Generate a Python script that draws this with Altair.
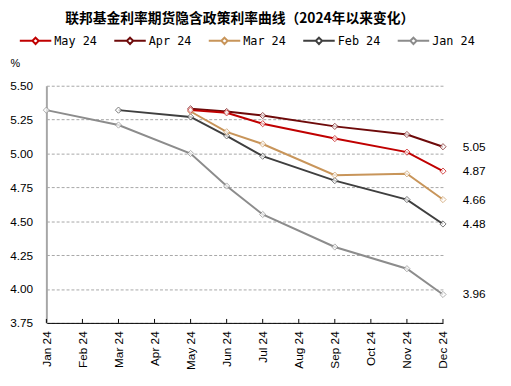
import altair as alt
import pandas as pd

months = ["Jan 24", "Feb 24", "Mar 24", "Apr 24", "May 24", "Jun 24",
          "Jul 24", "Aug 24", "Sep 24", "Oct 24", "Nov 24", "Dec 24"]

series_names = ["May 24", "Apr 24", "Mar 24", "Feb 24", "Jan 24"]
series_colors = ["#C00000", "#6E0A0A", "#C8955A", "#3F3F3F", "#8C8C8C"]

jan_months = ["Jan 24", "Mar 24", "May 24", "Jun 24", "Jul 24", "Sep 24", "Nov 24", "Dec 24"]
jan_vals = [5.32, 5.21, 5.00, 4.76, 4.55, 4.31, 4.15, 3.96]

feb_months = ["Mar 24", "May 24", "Jun 24", "Jul 24", "Sep 24", "Nov 24", "Dec 24"]
feb_vals = [5.32, 5.27, 5.13, 4.98, 4.80, 4.66, 4.48]

mar_months = ["May 24", "Jun 24", "Jul 24", "Sep 24", "Nov 24", "Dec 24"]
mar_vals = [5.31, 5.16, 5.07, 4.84, 4.85, 4.66]

apr_months = ["May 24", "Jun 24", "Jul 24", "Sep 24", "Nov 24", "Dec 24"]
apr_vals = [5.33, 5.31, 5.28, 5.20, 5.14, 5.05]

may_months = ["May 24", "Jun 24", "Jul 24", "Sep 24", "Nov 24", "Dec 24"]
may_vals = [5.32, 5.30, 5.22, 5.11, 5.01, 4.87]

end_labels = ["5.05", "4.87", "4.66", "4.48", "3.96"]
end_vals = [5.05, 4.87, 4.66, 4.48, 3.96]

y_ticks = [3.75, 4.00, 4.25, 4.50, 4.75, 5.00, 5.25, 5.50]

rows = []
for name, ms, vs in [("Jan 24", jan_months, jan_vals), ("Feb 24", feb_months, feb_vals),
                     ("Mar 24", mar_months, mar_vals), ("Apr 24", apr_months, apr_vals),
                     ("May 24", may_months, may_vals)]:
    for m, v in zip(ms, vs):
        rows.append({"series": name, "month": m, "value": v})
df = pd.DataFrame(rows)

lab_df = pd.DataFrame({"month": ["Dec 24"] * len(end_labels), "value": end_vals, "label": end_labels})
tick_df = pd.DataFrame({"month": months})

x_scale = alt.Scale(type="point", domain=months, padding=0)
y_scale = alt.Scale(domain=[3.75, 5.5], nice=False, zero=False)
color_scale = alt.Scale(domain=series_names, range=series_colors)

x_enc = alt.X("month:O", scale=x_scale, sort=months,
              axis=alt.Axis(title=None, labelAngle=-90, labelFontSize=12, labelFont="Liberation Sans",
                            labelColor="#000000", ticks=False, labelPadding=8, domainColor="#000000",
                            domainWidth=1, grid=False, labelOverlap=False))
y_enc = alt.Y("value:Q", scale=y_scale,
              axis=alt.Axis(title="%", titleAngle=0, titleX=-37, titleY=-18, titleFontSize=11,
                            titleFontWeight="normal", titleFont="Liberation Sans", titleAlign="left",
                            values=y_ticks, tickCount=20, format=".2f", labelFontSize=12,
                            labelFont="Liberation Sans",
                            labelColor="#000000", ticks=False, labelPadding=14, labelOverlap=False,
                            domainColor="#A6A6A6", domainWidth=2, grid=True, gridColor="#A6A6A6",
                            gridDash=[3, 2], gridWidth=1))

legend_sym = "M-1,0L-0.2,0M0.2,0L1,0M0,-0.2L0.2,0L0,0.2L-0.2,0Z"

lines = alt.Chart(df).mark_line(strokeWidth=2).encode(
    x=x_enc,
    y=y_enc,
    color=alt.Color("series:N", scale=color_scale, sort=series_names,
                    legend=alt.Legend(title=None, orient="none", legendX=-28, legendY=-63,
                                      direction="horizontal", columns=5, symbolType=legend_sym,
                                      symbolSize=1024, symbolStrokeWidth=2, symbolFillColor="white",
                                      labelFont="DejaVu Sans Mono", labelFontSize=12,
                                      labelColor="#000000", labelOffset=2, columnPadding=13)),
    detail="series:N",
)

points = alt.Chart(df).mark_point(shape="diamond", filled=True, fill="white", size=40,
                                  strokeWidth=1).encode(
    x=alt.X("month:O", scale=x_scale, sort=months),
    y=alt.Y("value:Q", scale=y_scale),
    stroke=alt.Color("series:N", scale=color_scale, sort=series_names, legend=None),
)

labels = alt.Chart(lab_df).mark_text(align="left", baseline="middle", dx=20, fontSize=12,
                                     font="Liberation Sans", color="#000000").encode(
    x=alt.X("month:O", scale=x_scale, sort=months),
    y=alt.Y("value:Q", scale=y_scale),
    text="label:N",
)

ticks = alt.Chart(tick_df).mark_rule(color="#000000", strokeWidth=1).encode(
    x=alt.X("month:O", scale=x_scale, sort=months),
    y=alt.value(237),
    y2=alt.value(241),
)

chart = alt.layer(lines, points, labels, ticks).properties(
    width=403,
    height=241,
    title=alt.TitleParams("联邦基金利率期货隐含政策利率曲线（2024年以来变化）", font="Noto Sans CJK SC",
                          fontSize=14, fontWeight="bold", anchor="middle", color="#000000",
                          dx=-5, dy=10, offset=8),
    autosize=alt.AutoSizeParams(type="none"),
    padding={"left": 39, "top": 76, "right": 61, "bottom": 53},
).configure_view(stroke=None)

chart.save("out.html", embed_options={"renderer": "svg", "actions": False})
